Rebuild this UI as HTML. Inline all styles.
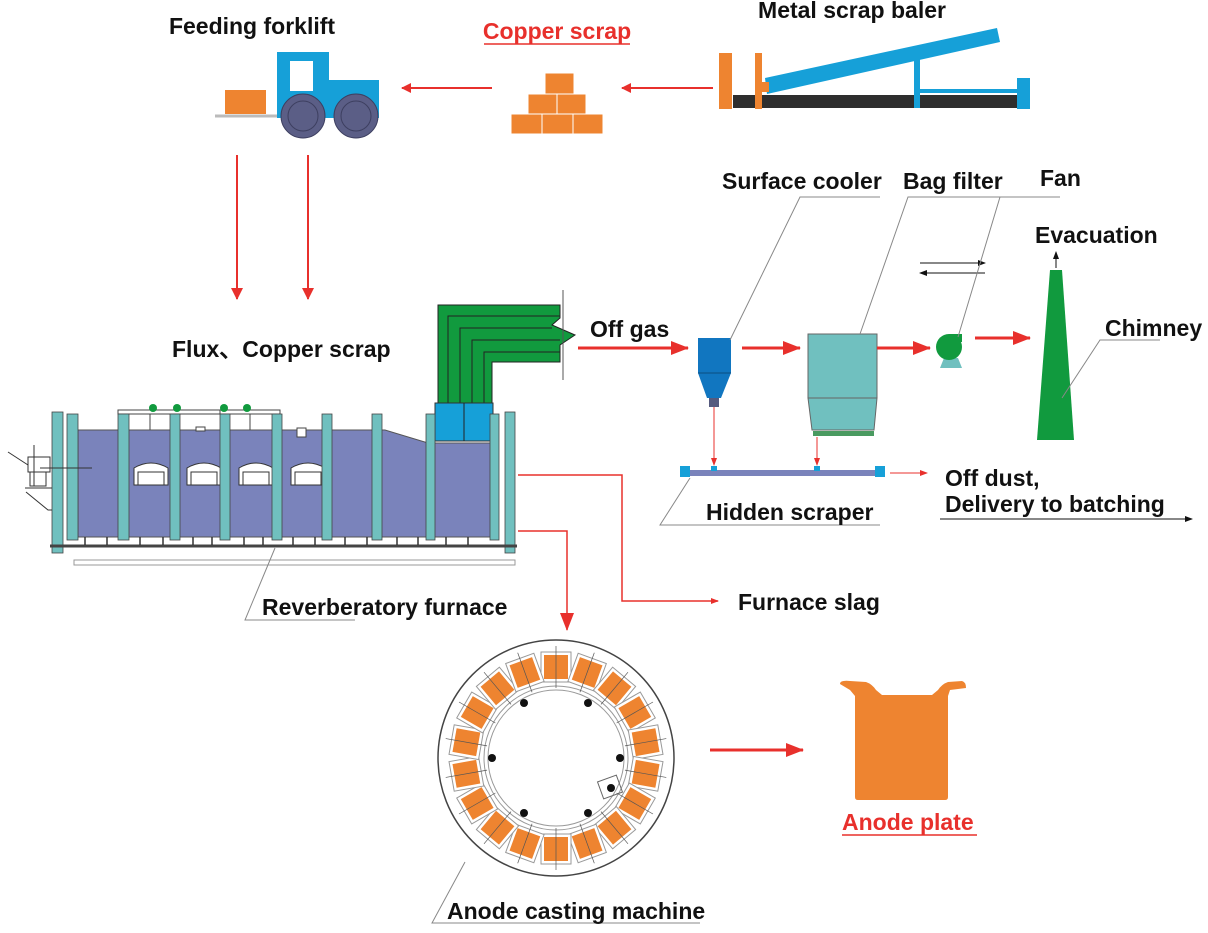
<!DOCTYPE html>
<html><head><meta charset="utf-8"><style>
html,body{margin:0;padding:0;background:#fff;}
svg{display:block;}
text{font-family:"Liberation Sans",sans-serif;font-weight:bold;}
</style></head><body>
<svg width="1208" height="933" viewBox="0 0 1208 933" xmlns="http://www.w3.org/2000/svg">
<defs>
<marker id="ar" markerWidth="10" markerHeight="10" refX="9" refY="5" orient="auto" markerUnits="userSpaceOnUse"><path d="M0,0 L10,5 L0,10 Z" fill="#e8302c"/></marker>
<marker id="arL" markerWidth="18" markerHeight="14" refX="17" refY="7" orient="auto" markerUnits="userSpaceOnUse"><path d="M0,0 L18,7 L0,14 Z" fill="#e8302c"/></marker>
<marker id="arM" markerWidth="12" markerHeight="14" refX="11" refY="7" orient="auto" markerUnits="userSpaceOnUse"><path d="M0,1 L12,7 L0,13 Z" fill="#e8302c"/></marker>
<marker id="arS" markerWidth="8" markerHeight="8" refX="7" refY="4" orient="auto" markerUnits="userSpaceOnUse"><path d="M0,1 L8,4 L0,7 Z" fill="#e8302c"/></marker>
<marker id="arK" markerWidth="8" markerHeight="6" refX="7" refY="3" orient="auto" markerUnits="userSpaceOnUse"><path d="M0,0 L8,3 L0,6 Z" fill="#111"/></marker>
</defs>

<!-- Top labels -->
<text x="252" y="34" font-size="23" text-anchor="middle" fill="#111">Feeding forklift</text>
<text x="557" y="39" font-size="23" text-anchor="middle" fill="#e8302c">Copper scrap</text>
<line x1="484" y1="44" x2="630" y2="44" stroke="#e8302c" stroke-width="1.5"/>
<text x="852" y="18" font-size="23" text-anchor="middle" fill="#111">Metal scrap baler</text>

<!-- Forklift -->
<line x1="215" y1="116" x2="282" y2="116" stroke="#bbb" stroke-width="3"/>
<rect x="225" y="90" width="41" height="24" fill="#ee8430"/>
<rect x="277" y="52" width="52" height="66" fill="#16a0d8"/>
<rect x="329" y="80" width="50" height="38" fill="#16a0d8"/>
<rect x="290" y="61" width="23" height="30" fill="#fff"/>
<circle cx="303" cy="116" r="22" fill="#5b5e86" stroke="#3d3f60"/>
<circle cx="303" cy="116" r="15" fill="none" stroke="#3d3f60"/>
<circle cx="356" cy="116" r="22" fill="#5b5e86" stroke="#3d3f60"/>
<circle cx="356" cy="116" r="15" fill="none" stroke="#3d3f60"/>

<!-- Copper bricks -->
<g fill="#ee8430" stroke="#fff" stroke-width="1">
<rect x="545" y="73" width="29" height="21"/>
<rect x="528" y="94" width="29" height="20"/><rect x="557" y="94" width="29" height="20"/>
<rect x="511" y="114" width="31" height="20"/><rect x="542" y="114" width="31" height="20"/><rect x="573" y="114" width="30" height="20"/>
</g>
<line x1="492" y1="88" x2="402" y2="88" stroke="#e8302c" stroke-width="2" marker-end="url(#ar)"/>
<line x1="713" y1="88" x2="622" y2="88" stroke="#e8302c" stroke-width="2" marker-end="url(#ar)"/>

<!-- Baler -->
<rect x="733" y="95" width="297" height="13" fill="#2e2e2e"/>
<rect x="719" y="53" width="13" height="56" fill="#ee8430"/>
<rect x="755" y="53" width="7" height="56" fill="#ee8430"/>
<polygon points="765,78 997,28 1000,42 767,94" fill="#16a0d8"/>
<rect x="762" y="82" width="7" height="10" fill="#ee8430"/>
<rect x="914" y="47" width="6" height="61" fill="#16a0d8"/>
<rect x="920" y="89" width="97" height="4" fill="#16a0d8"/>
<rect x="1017" y="78" width="13" height="31" fill="#16a0d8"/>

<!-- Down arrows -->
<line x1="237" y1="155" x2="237" y2="299" stroke="#e8302c" stroke-width="2" marker-end="url(#arM)"/>
<line x1="308" y1="155" x2="308" y2="299" stroke="#e8302c" stroke-width="2" marker-end="url(#arM)"/>
<text x="172" y="357" font-size="23" fill="#111" font-family="Liberation Sans, Noto Sans CJK SC, sans-serif">Flux、Copper scrap</text>

<!-- Green duct -->
<path d="M438,305 L560,305 L560,318 L552,325 L575,335 L560,345 L560,362 L492,362 L492,403 L438,403 Z" fill="#119a3e" stroke="#222"/>
<path d="M448,403 L448,316 L560,316 M460,403 L460,328 L552,328 M472,403 L472,340 L560,340 M484,403 L484,352 L560,352" fill="none" stroke="#222" stroke-width="1"/>
<line x1="563" y1="290" x2="563" y2="380" stroke="#555" stroke-width="1"/>

<!-- Furnace body -->
<path d="M78,430 L385,430 L428,443 L495,443 L495,537 L78,537 Z" fill="#7a83bb" stroke="#555" stroke-width="1"/>
<rect x="435" y="403" width="58" height="38" fill="#16a0d8" stroke="#333"/>
<line x1="464" y1="403" x2="464" y2="441" stroke="#222"/>
<rect x="118" y="410" width="110" height="4" fill="#fff" stroke="#444"/>
<rect x="220" y="410" width="60" height="4" fill="#fff" stroke="#444"/>
<g fill="#119a3e"><circle cx="153" cy="408" r="4"/><circle cx="177" cy="408" r="4"/><circle cx="224" cy="408" r="4"/><circle cx="247" cy="408" r="4"/></g>
<line x1="150" y1="414" x2="150" y2="430" stroke="#444"/><line x1="250" y1="414" x2="250" y2="430" stroke="#444"/>
<rect x="196" y="427" width="9" height="4" fill="#fff" stroke="#444"/>
<rect x="297" y="428" width="9" height="9" fill="#fff" stroke="#444"/>
<!-- windows -->
<g fill="#fff" stroke="#333">
<path d="M134,485 L134,468 Q151,458 168,468 L168,485 Z"/><path d="M187,485 L187,468 Q204,458 221,468 L221,485 Z"/>
<path d="M239,485 L239,468 Q256,458 273,468 L273,485 Z"/><path d="M291,485 L291,468 Q308,458 325,468 L325,485 Z"/>
</g>
<g stroke="#333" stroke-width="1" fill="none">
<path d="M138,485 L138,472 L164,472 L164,485"/><path d="M191,485 L191,472 L217,472 L217,485"/>
<path d="M243,485 L243,472 L269,472 L269,485"/><path d="M295,485 L295,472 L321,472 L321,485"/>
</g>
<!-- posts -->
<g fill="#70c0bf" stroke="#444" stroke-width="0.8">
<rect x="52" y="412" width="11" height="141"/><rect x="67" y="414" width="11" height="126"/>
<rect x="118" y="414" width="11" height="126"/><rect x="170" y="414" width="10" height="126"/>
<rect x="220" y="414" width="10" height="126"/><rect x="272" y="414" width="10" height="126"/>
<rect x="322" y="414" width="10" height="126"/><rect x="372" y="414" width="10" height="126"/>
<rect x="426" y="414" width="9" height="126"/><rect x="490" y="414" width="9" height="126"/>
<rect x="505" y="412" width="10" height="141"/>
</g>
<line x1="50" y1="546" x2="517" y2="546" stroke="#444" stroke-width="3"/>
<g stroke="#333" stroke-width="1.5">
<line x1="85" y1="537" x2="85" y2="545"/><line x1="107" y1="537" x2="107" y2="545"/><line x1="140" y1="537" x2="140" y2="545"/><line x1="163" y1="537" x2="163" y2="545"/><line x1="193" y1="537" x2="193" y2="545"/><line x1="212" y1="537" x2="212" y2="545"/><line x1="244" y1="537" x2="244" y2="545"/><line x1="263" y1="537" x2="263" y2="545"/><line x1="293" y1="537" x2="293" y2="545"/><line x1="315" y1="537" x2="315" y2="545"/><line x1="345" y1="537" x2="345" y2="545"/><line x1="367" y1="537" x2="367" y2="545"/><line x1="397" y1="537" x2="397" y2="545"/><line x1="418" y1="537" x2="418" y2="545"/><line x1="446" y1="537" x2="446" y2="545"/><line x1="468" y1="537" x2="468" y2="545"/>
</g>
<rect x="74" y="560" width="441" height="5" fill="#fff" stroke="#999"/>
<!-- burner -->
<g stroke="#333" fill="none" stroke-width="1">
<rect x="28" y="457" width="22" height="15"/><rect x="30" y="472" width="16" height="14"/>
<line x1="8" y1="452" x2="28" y2="465"/><line x1="34" y1="445" x2="34" y2="486"/>
<line x1="40" y1="468" x2="92" y2="468"/><path d="M25,488 L52,488 M26,492 L48,510 L52,510"/>
</g>

<!-- furnace outputs -->
<polyline points="518,475 622,475 622,601 718,601" fill="none" stroke="#e8302c" stroke-width="1.5" marker-end="url(#arS)"/>
<polyline points="518,531 567,531 567,630" fill="none" stroke="#e8302c" stroke-width="1.5" marker-end="url(#arL)"/>
<text x="738" y="610" font-size="23" fill="#111">Furnace slag</text>
<polyline points="275,548 245,620 355,620" fill="none" stroke="#888" stroke-width="1"/>
<text x="262" y="615" font-size="23" fill="#111">Reverberatory furnace</text>

<!-- Gas line -->
<text x="590" y="337" font-size="23" fill="#111">Off gas</text>
<line x1="578" y1="348" x2="688" y2="348" stroke="#e8302c" stroke-width="3" marker-end="url(#arL)"/>
<!-- cooler -->
<rect x="698" y="338" width="33" height="35" fill="#1176c0"/>
<polygon points="698,373 731,373 721,398 707,398" fill="#1176c0"/>
<line x1="698" y1="373" x2="731" y2="373" stroke="#0a4d80"/>
<rect x="709" y="398" width="10" height="9" fill="#555a7e"/>
<line x1="742" y1="348" x2="800" y2="348" stroke="#e8302c" stroke-width="3" marker-end="url(#arL)"/>
<!-- bag filter -->
<rect x="808" y="334" width="69" height="64" fill="#70c0bf" stroke="#666"/>
<polygon points="808,398 877,398 874,430 812,430" fill="#70c0bf" stroke="#666"/>
<rect x="813" y="431" width="61" height="5" fill="#4a9a60"/>
<line x1="877" y1="348" x2="930" y2="348" stroke="#e8302c" stroke-width="3" marker-end="url(#arL)"/>
<!-- fan -->
<polygon points="940,368 962,368 958,358 944,358" fill="#70c0bf"/>
<circle cx="949" cy="347" r="13" fill="#119a3e"/>
<rect x="949" y="334" width="13" height="8" fill="#119a3e"/>
<line x1="975" y1="338" x2="1030" y2="338" stroke="#e8302c" stroke-width="3" marker-end="url(#arL)"/>
<!-- chimney -->
<polygon points="1050,270 1062,270 1074,440 1037,440" fill="#119a3e"/>
<line x1="1056" y1="268" x2="1056" y2="252" stroke="#111" stroke-width="1" marker-end="url(#arK)"/>
<line x1="920" y1="263" x2="985" y2="263" stroke="#111" stroke-width="1" marker-end="url(#arK)"/>
<line x1="985" y1="273" x2="920" y2="273" stroke="#111" stroke-width="1" marker-end="url(#arK)"/>
<!-- scraper -->
<line x1="714" y1="407" x2="714" y2="465" stroke="#e8302c" stroke-width="1" marker-end="url(#arS)"/>
<line x1="817" y1="437" x2="817" y2="465" stroke="#e8302c" stroke-width="1" marker-end="url(#arS)"/>
<rect x="685" y="470" width="195" height="6" fill="#7a83bb"/>
<rect x="680" y="466" width="10" height="11" fill="#16a0d8"/><rect x="875" y="466" width="10" height="11" fill="#16a0d8"/>
<rect x="711" y="466" width="6" height="5" fill="#16a0d8"/><rect x="814" y="466" width="6" height="5" fill="#16a0d8"/>
<line x1="890" y1="473" x2="927" y2="473" stroke="#e8302c" stroke-width="1" marker-end="url(#arS)"/>
<polyline points="690,478 660,525 880,525" fill="none" stroke="#888" stroke-width="1"/>
<text x="706" y="520" font-size="23" fill="#111">Hidden scraper</text>
<text x="945" y="486" font-size="23" fill="#111">Off dust,</text>
<text x="945" y="512" font-size="23" fill="#111">Delivery to batching</text>
<line x1="940" y1="519" x2="1192" y2="519" stroke="#111" stroke-width="1" marker-end="url(#arK)"/>
<!-- labels + leaders -->
<text x="722" y="189" font-size="23" fill="#111">Surface cooler</text>
<text x="903" y="189" font-size="23" fill="#111">Bag filter</text>
<text x="1040" y="186" font-size="23" fill="#111">Fan</text>
<text x="1035" y="243" font-size="23" fill="#111">Evacuation</text>
<text x="1105" y="336" font-size="23" fill="#111">Chimney</text>
<g stroke="#888" stroke-width="1" fill="none">
<polyline points="880,197 800,197 730,340"/>
<polyline points="1005,197 908,197 860,334"/>
<polyline points="1060,197 1000,197 958,337"/>
<polyline points="1160,340 1100,340 1062,398"/>
</g>

<!-- Casting machine -->
<circle cx="556" cy="758" r="118" fill="#fff" stroke="#444" stroke-width="1.5"/>
<circle cx="556" cy="758" r="72" fill="none" stroke="#999" stroke-width="1"/>
<circle cx="556" cy="758" r="68" fill="none" stroke="#999" stroke-width="1"/>
<g transform="translate(556,758)">
<g id="m"><rect x="-15" y="-106" width="30" height="30" fill="#fff" stroke="#999"/><rect x="-12" y="-103" width="24" height="24" fill="#ee8430"/><line x1="0" y1="-112" x2="0" y2="-70" stroke="#555" stroke-width="0.7"/></g>
<use href="#m" transform="rotate(20)"/><use href="#m" transform="rotate(40)"/><use href="#m" transform="rotate(60)"/><use href="#m" transform="rotate(80)"/><use href="#m" transform="rotate(100)"/><use href="#m" transform="rotate(120)"/><use href="#m" transform="rotate(140)"/><use href="#m" transform="rotate(160)"/><use href="#m" transform="rotate(180)"/><use href="#m" transform="rotate(200)"/><use href="#m" transform="rotate(220)"/><use href="#m" transform="rotate(240)"/><use href="#m" transform="rotate(260)"/><use href="#m" transform="rotate(280)"/><use href="#m" transform="rotate(300)"/><use href="#m" transform="rotate(320)"/><use href="#m" transform="rotate(340)"/>
<g fill="#111"><circle cx="-32" cy="-55" r="4"/><circle cx="32" cy="-55" r="4"/><circle cx="-64" cy="0" r="4"/><circle cx="64" cy="0" r="4"/><circle cx="-32" cy="55" r="4"/><circle cx="32" cy="55" r="4"/><circle cx="55" cy="30" r="4"/></g>
<rect x="44" y="20" width="20" height="18" fill="none" stroke="#666" transform="rotate(-20 54 29)"/>
</g>
<polyline points="465,862 432,923 700,923" fill="none" stroke="#888" stroke-width="1"/>
<text x="447" y="919" font-size="23" fill="#111">Anode casting machine</text>

<line x1="710" y1="750" x2="803" y2="750" stroke="#e8302c" stroke-width="3" marker-end="url(#arL)"/>
<!-- Anode plate -->
<path d="M840,684 Q840,680 850,681 L866,682 Q872,684 876,690 L882,695 L932,695 L938,690 Q942,684 948,682 L962,681 Q966,682 966,688 L950,690 L948,696 L948,797 Q948,800 945,800 L858,800 Q855,800 855,797 L855,696 L850,690 Z" fill="#ee8430"/>
<text x="842" y="830" font-size="23" fill="#e8302c">Anode plate</text>
<line x1="842" y1="835" x2="977" y2="835" stroke="#e8302c" stroke-width="1.5"/>
</svg>
</body></html>
